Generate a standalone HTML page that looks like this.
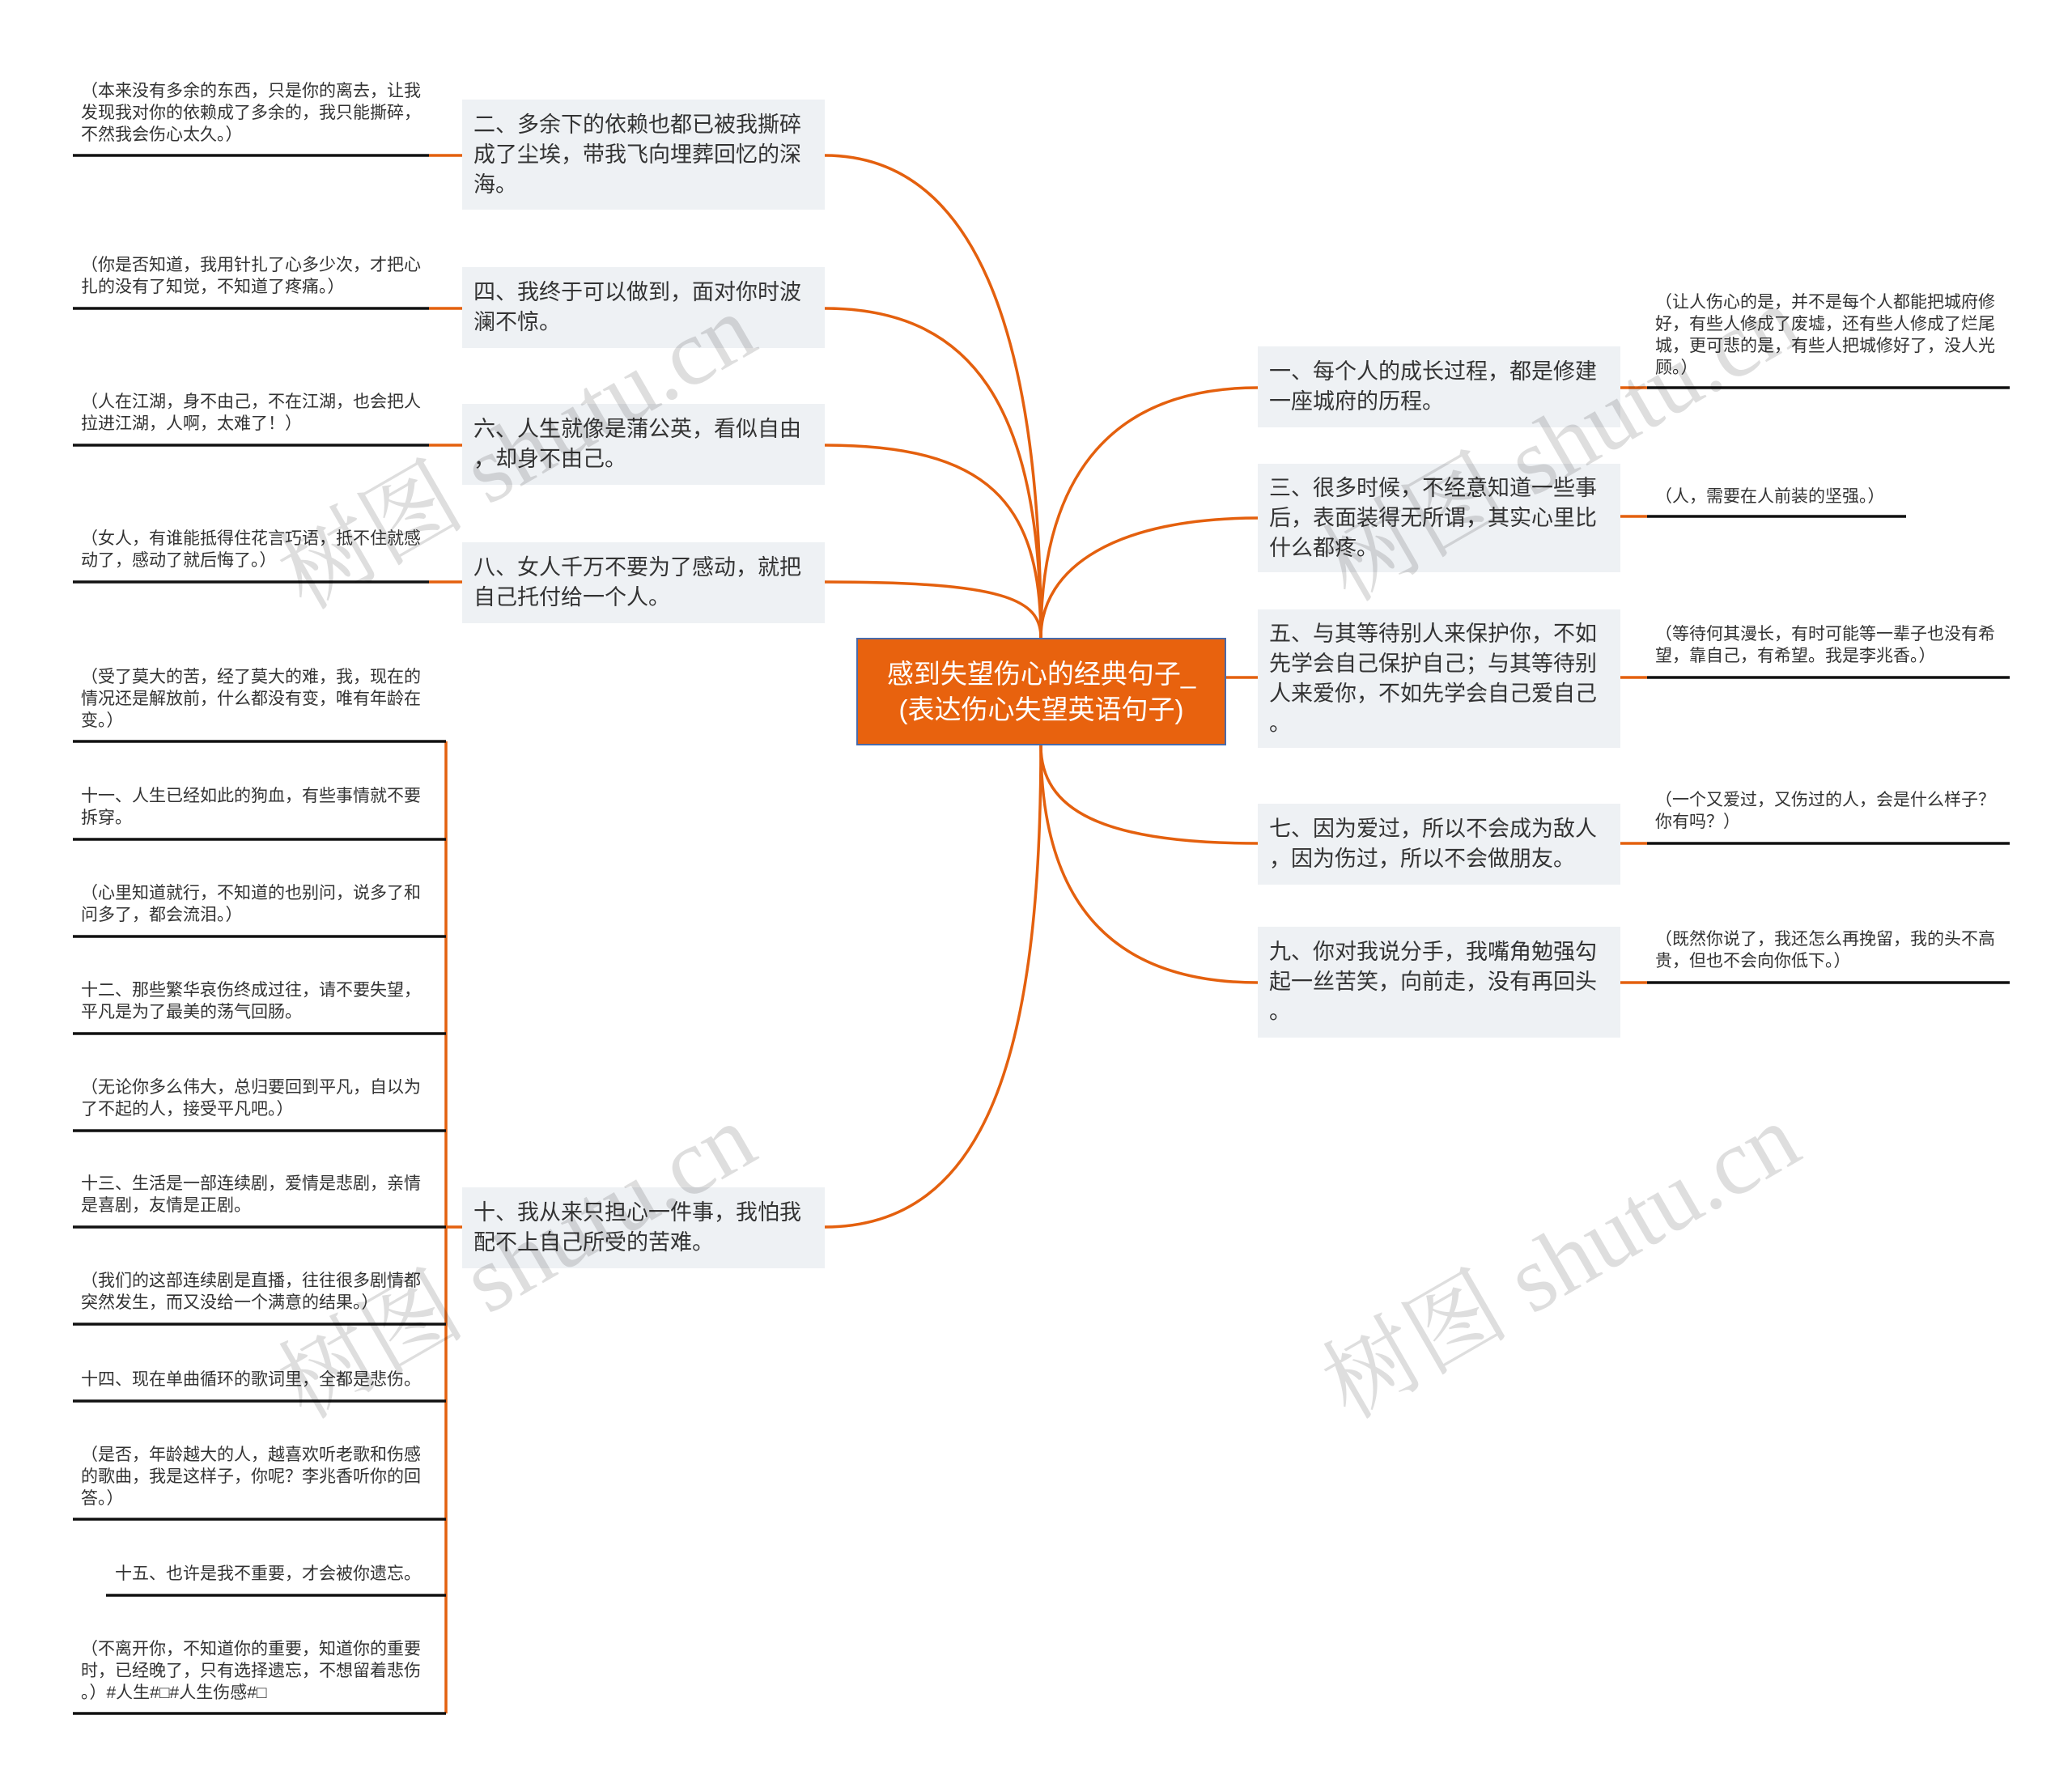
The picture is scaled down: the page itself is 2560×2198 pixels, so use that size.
<!DOCTYPE html>
<html><head><meta charset="utf-8"><style>
body{margin:0;width:2560px;height:2198px;background:#fff;position:relative;overflow:hidden;font-family:"Liberation Sans","Noto Sans CJK SC",sans-serif;}
.n{position:absolute;background:#eef1f4;color:#333;font-size:27px;line-height:37px;padding:0 14px;box-sizing:border-box;display:flex;align-items:center;}
.l{position:absolute;color:#333;font-size:21px;line-height:27px;width:470px;}
.wm{position:absolute;font-family:"Liberation Serif","Noto Serif CJK SC",serif;font-size:116px;color:rgba(0,0,0,0.13);transform:rotate(-30deg);transform-origin:left top;white-space:nowrap;}
</style></head><body>
<svg width="2560" height="2198" style="position:absolute;left:0;top:0">
<g fill="none" stroke="#e4600e" stroke-width="3.5">
<path d="M1286 788 C1286 400 1200 192 1019 192"/>
<path d="M1286 788 C1286 500 1200 381 1019 381"/>
<path d="M1286 788 C1286 620 1220 550 1019 550"/>
<path d="M1286 788 C1286 740 1240 719 1019 719"/>
<path d="M1286 921 C1286 1300 1220 1516 1019 1516"/>
<path d="M1286 788 C1286 580 1380 479 1554 479"/>
<path d="M1286 788 C1286 700 1380 640 1554 640"/>
<path d="M1515 837 L1554 837"/>
<path d="M1286 921 C1286 1000 1360 1042 1554 1042"/>
<path d="M1286 921 C1286 1100 1360 1214 1554 1214"/>
<path d="M530 192H571M530 381H571M530 550H571M530 719H571"/>
<path d="M551 916V2117M551 1516H571"/>
<path d="M2002 479H2035M2002 638H2035M2002 837H2035M2002 1042H2035M2002 1214H2035"/>
</g>
<g stroke="#111" stroke-width="3.5">
<path d="M90 192H530M90 381H530M90 550H530M90 719H530"/>
<path d="M90 916H551M90 1037H551M90 1157H551M90 1277H551M90 1397H551M90 1516H551M90 1636H551M90 1731H551M90 1877H551M131 1971H551M90 2117H551"/>
<path d="M2035 479H2483M2035 638H2355M2035 837H2483M2035 1042H2483M2035 1214H2483"/>
</g>
</svg>

<div class="n" style="left:571px;top:123px;width:448px;height:136px">二、多余下的依赖也都已被我撕碎<br>成了尘埃，带我飞向埋葬回忆的深<br>海。</div>
<div class="n" style="left:571px;top:330px;width:448px;height:100px">四、我终于可以做到，面对你时波<br>澜不惊。</div>
<div class="n" style="left:571px;top:499px;width:448px;height:100px">六、人生就像是蒲公英，看似自由<br>，却身不由己。</div>
<div class="n" style="left:571px;top:670px;width:448px;height:100px">八、女人千万不要为了感动，就把<br>自己托付给一个人。</div>
<div class="n" style="left:571px;top:1467px;width:448px;height:100px">十、我从来只担心一件事，我怕我<br>配不上自己所受的苦难。</div>

<div style="position:absolute;left:1058px;top:788px;width:457px;height:133px;box-sizing:border-box;background:#e8620e;border:2px solid #4a6aa8;color:#fff;font-size:33px;line-height:44px;display:flex;align-items:center;justify-content:center;text-align:center">感到失望伤心的经典句子_<br>(表达伤心失望英语句子)</div>

<div class="n" style="left:1554px;top:428px;width:448px;height:100px">一、每个人的成长过程，都是修建<br>一座城府的历程。</div>
<div class="n" style="left:1554px;top:573px;width:448px;height:134px">三、很多时候，不经意知道一些事<br>后，表面装得无所谓，其实心里比<br>什么都疼。</div>
<div class="n" style="left:1554px;top:753px;width:448px;height:171px">五、与其等待别人来保护你，不如<br>先学会自己保护自己；与其等待别<br>人来爱你，不如先学会自己爱自己<br>。</div>
<div class="n" style="left:1554px;top:993px;width:448px;height:100px">七、因为爱过，所以不会成为敌人<br>，因为伤过，所以不会做朋友。</div>
<div class="n" style="left:1554px;top:1145px;width:448px;height:137px">九、你对我说分手，我嘴角勉强勾<br>起一丝苦笑，向前走，没有再回头<br>。</div>

<div class="l" style="left:100px;top:99px">（本来没有多余的东西，只是你的离去，让我<br>发现我对你的依赖成了多余的，我只能撕碎，<br>不然我会伤心太久。）</div>
<div class="l" style="left:100px;top:314px">（你是否知道，我用针扎了心多少次，才把心<br>扎的没有了知觉，不知道了疼痛。）</div>
<div class="l" style="left:100px;top:483px">（人在江湖，身不由己，不在江湖，也会把人<br>拉进江湖，人啊，太难了！）</div>
<div class="l" style="left:100px;top:652px">（女人，有谁能抵得住花言巧语，抵不住就感<br>动了，感动了就后悔了。）</div>

<div class="l" style="left:100px;top:823px">（受了莫大的苦，经了莫大的难，我，现在的<br>情况还是解放前，什么都没有变，唯有年龄在<br>变。）</div>
<div class="l" style="left:100px;top:970px">十一、人生已经如此的狗血，有些事情就不要<br>拆穿。</div>
<div class="l" style="left:100px;top:1090px">（心里知道就行，不知道的也别问，说多了和<br>问多了，都会流泪。）</div>
<div class="l" style="left:100px;top:1210px">十二、那些繁华哀伤终成过往，请不要失望，<br>平凡是为了最美的荡气回肠。</div>
<div class="l" style="left:100px;top:1330px">（无论你多么伟大，总归要回到平凡，自以为<br>了不起的人，接受平凡吧。）</div>
<div class="l" style="left:100px;top:1449px">十三、生活是一部连续剧，爱情是悲剧，亲情<br>是喜剧，友情是正剧。</div>
<div class="l" style="left:100px;top:1569px">（我们的这部连续剧是直播，往往很多剧情都<br>突然发生，而又没给一个满意的结果。）</div>
<div class="l" style="left:100px;top:1691px">十四、现在单曲循环的歌词里，全都是悲伤。</div>
<div class="l" style="left:100px;top:1784px">（是否，年龄越大的人，越喜欢听老歌和伤感<br>的歌曲，我是这样子，你呢？李兆香听你的回<br>答。）</div>
<div class="l" style="left:142px;top:1931px">十五、也许是我不重要，才会被你遗忘。</div>
<div class="l" style="left:100px;top:2024px">（不离开你，不知道你的重要，知道你的重要<br>时，已经晚了，只有选择遗忘，不想留着悲伤<br>。）#人生#□#人生伤感#□</div>

<div class="l" style="left:2045px;top:360px">（让人伤心的是，并不是每个人都能把城府修<br>好，有些人修成了废墟，还有些人修成了烂尾<br>城，更可悲的是，有些人把城修好了，没人光<br>顾。）</div>
<div class="l" style="left:2045px;top:600px">（人，需要在人前装的坚强。）</div>
<div class="l" style="left:2045px;top:770px">（等待何其漫长，有时可能等一辈子也没有希<br>望，靠自己，有希望。我是李兆香。）</div>
<div class="l" style="left:2045px;top:975px">（一个又爱过，又伤过的人，会是什么样子？<br>你有吗？）</div>
<div class="l" style="left:2045px;top:1147px">（既然你说了，我还怎么再挽留，我的头不高<br>贵，但也不会向你低下。）</div>

<div class="wm" style="left:310px;top:640px">树图 shutu.cn</div>
<div class="wm" style="left:1600px;top:630px">树图 shutu.cn</div>
<div class="wm" style="left:310px;top:1640px">树图 shutu.cn</div>
<div class="wm" style="left:1600px;top:1640px">树图 shutu.cn</div>
</body></html>
